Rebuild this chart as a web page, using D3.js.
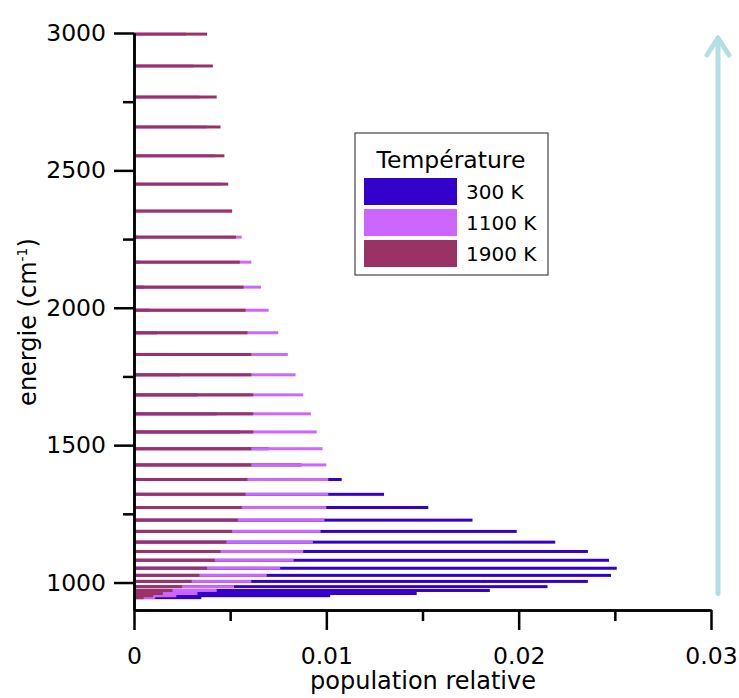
<!DOCTYPE html>
<html>
<head>
<meta charset="utf-8">
<style>
body { margin: 0; background: #fff; }
svg text { font-family: "DejaVu Sans", Verdana, sans-serif; fill: #000; }
.axis path, .axis line { stroke: #000; stroke-width: 2.5px; }
.axis text { font-size: 23.5px; }
</style>
</head>
<body>
<div id="chart"></div>
<script src="https://d3js.org/d3.v7.min.js"></script>
<script>

// rotational levels, lowest first (cm-1)
var energies = [945, 952, 960, 971, 985, 1004, 1026, 1052, 1081, 1113, 1147, 1186, 1227, 1273, 1321,
  1375, 1428, 1487, 1548, 1614, 1683, 1756, 1830, 1909, 1991, 2075, 2166, 2257, 2352, 2450,
  2553, 2658, 2767, 2880, 2996];

var pop300 = [0.0035, 0.0102, 0.0147, 0.0185, 0.0215, 0.0236, 0.0248, 0.0251, 0.0247, 0.0236,
  0.0219, 0.0199, 0.0176, 0.0153, 0.0130, 0.0108, 0.0087, 0.0070, 0.0055, 0.0043,
  0.0033, 0.0024, 0.0017, 0.0012, 0.0008, 0.0005, 0.0003, 0.0002, 0.0001, 0.0001,
  0, 0, 0, 0, 0];

var pop1100 = [0.0011, 0.0022, 0.0033, 0.0043, 0.0052, 0.0061, 0.0069, 0.0076, 0.0083, 0.0088,
  0.0093, 0.0097, 0.0099, 0.0100, 0.0101, 0.0101, 0.0100, 0.0098, 0.0095, 0.0092,
  0.0088, 0.0084, 0.0080, 0.0075, 0.0070, 0.0066, 0.0061, 0.0056, 0.0051, 0.0046,
  0.0042, 0.0038, 0.0034, 0.0031, 0.0027];

var pop1900 = [0.0005, 0.0010, 0.0015, 0.0020, 0.0025, 0.0030, 0.0034, 0.0038, 0.0042, 0.0045,
  0.0048, 0.0051, 0.0054, 0.0056, 0.0058, 0.0059, 0.0061, 0.0061, 0.0062, 0.0062,
  0.0062, 0.0061, 0.0061, 0.0059, 0.0058, 0.0057, 0.0055, 0.0053, 0.0051, 0.0049,
  0.0047, 0.0045, 0.0043, 0.0041, 0.0038];

var temps = ["300 K", "1100 K", "1900 K"];
var colors = ["#3300cc", "#cc66ff", "#993366"];

var xMajor = [0, 0.01, 0.02, 0.03];
var xMinor = [0.005, 0.015, 0.025];
var yMajor = [1000, 1500, 2000, 2500, 3000];
var yMinor = [1250, 1750, 2250, 2750];

var width = 739, height = 698;

var x = d3.scaleLinear().domain([0, 0.03]).range([134, 711]);
var y = d3.scaleLinear().domain([900, 3000]).range([610, 33]);

var svg = d3.select("#chart").append("svg")
  .attr("width", width)
  .attr("height", height);

// bars, one series after the other
var series = [pop300, pop1100, pop1900];
series.forEach(function(vals, k) {
  svg.append("g").selectAll("rect")
    .data(vals)
    .enter().append("rect")
    .attr("x", x(0))
    .attr("y", function(d, i) { return y(energies[i]) - 1.5; })
    .attr("width", function(d) { return x(d) - x(0); })
    .attr("height", 3)
    .attr("fill", colors[k]);
});

// axes
svg.append("g").attr("class", "axis")
  .attr("transform", "translate(" + x(0) + ",0)")
  .call(d3.axisLeft(y).tickValues(yMinor).tickFormat("").tickSize(11).tickSizeOuter(0));
svg.append("g").attr("class", "axis")
  .attr("transform", "translate(" + x(0) + ",0)")
  .call(d3.axisLeft(y).tickValues(yMajor).tickFormat(d3.format("d")).tickSize(20).tickPadding(8).tickSizeOuter(0));

svg.append("g").attr("class", "axis")
  .attr("transform", "translate(0," + y(900) + ")")
  .call(d3.axisBottom(x).tickValues(xMinor).tickFormat("").tickSize(11).tickSizeOuter(0));
svg.append("g").attr("class", "axis")
  .attr("transform", "translate(0," + y(900) + ")")
  .call(d3.axisBottom(x).tickValues(xMajor).tickFormat(function(d) { return d === 0 ? "0" : d3.format(".2f")(d); })
    .tickSize(20).tickPadding(17).tickSizeOuter(0));

// axis titles
svg.append("text")
  .attr("x", 423).attr("y", 689)
  .attr("text-anchor", "middle")
  .style("font-size", "24px")
  .text("population relative");

var yt = svg.append("text")
  .attr("transform", "translate(36,322) rotate(-90)")
  .attr("text-anchor", "middle")
  .style("font-size", "24px");
yt.append("tspan").text("energie (cm");
yt.append("tspan").attr("dy", -9).style("font-size", "14px").text("-1");
yt.append("tspan").attr("dy", 9).text(")");

// arrow on the right
var arrowColor = "#b3dfe2";
svg.append("line")
  .attr("x1", 718).attr("x2", 718)
  .attr("y1", y(960)).attr("y2", 38)
  .attr("stroke", arrowColor).attr("stroke-width", 5).attr("stroke-linecap", "round");
svg.append("path")
  .attr("d", "M707,55 L718,38 L729,55")
  .attr("fill", "none")
  .attr("stroke", arrowColor).attr("stroke-width", 5)
  .attr("stroke-linecap", "round").attr("stroke-linejoin", "round");

// legend
var lg = svg.append("g").attr("transform", "translate(355,133)");
lg.append("rect")
  .attr("width", 193).attr("height", 142)
  .attr("fill", "#fff").attr("stroke", "#444").attr("stroke-width", 1.2);
lg.append("text")
  .attr("x", 96).attr("y", 35)
  .attr("text-anchor", "middle")
  .style("font-size", "23.5px")
  .text("Température");
temps.forEach(function(t, i) {
  lg.append("rect")
    .attr("x", 9).attr("y", 45 + i * 31)
    .attr("width", 93).attr("height", 27)
    .attr("fill", colors[i]);
  lg.append("text")
    .attr("x", 111).attr("y", 66 + i * 31)
    .style("font-size", "20px")
    .text(t);
});

</script>
</body>
</html>
